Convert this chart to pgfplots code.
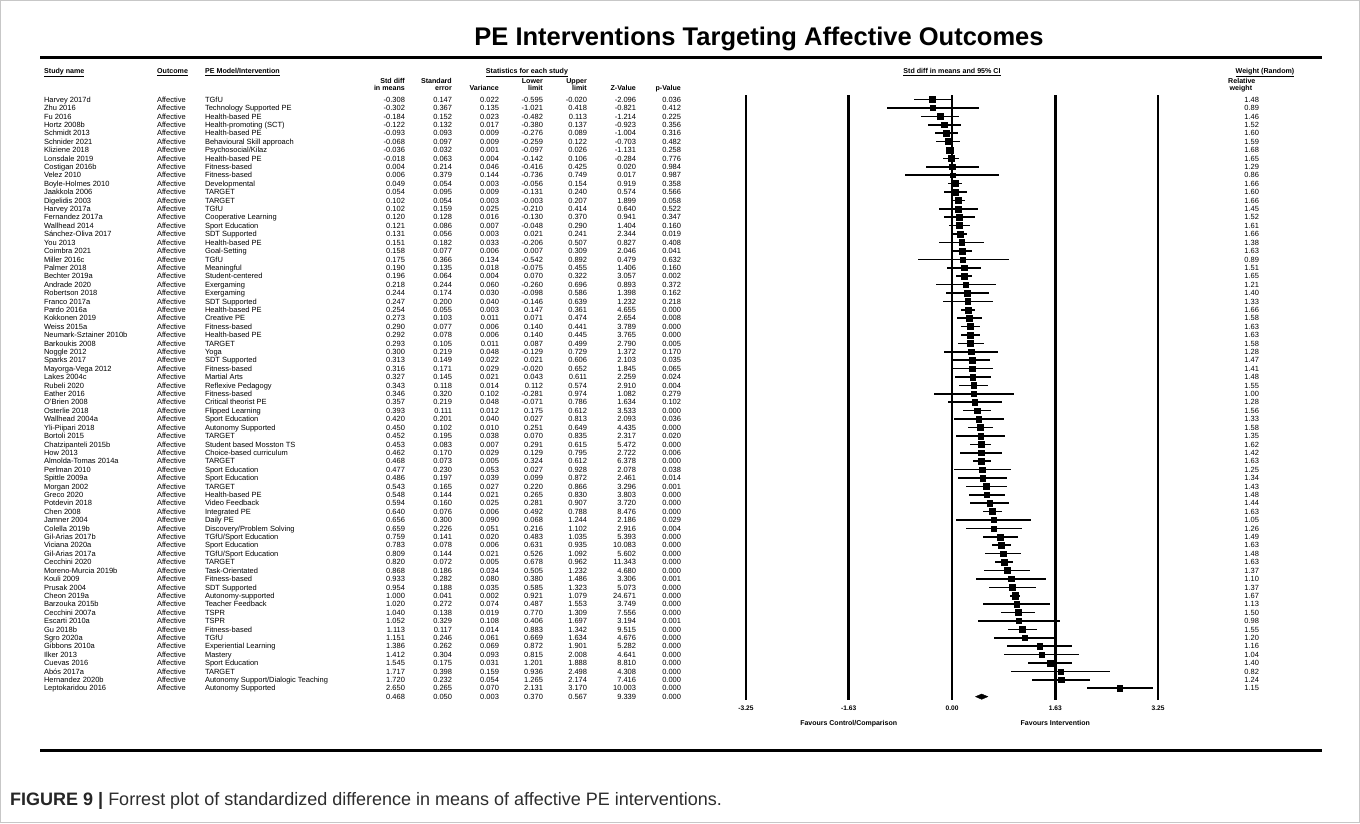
\documentclass[border=0pt]{standalone}
\usepackage{pgfplots}
\pgfplotsset{compat=1.18}
\usepackage{pgfplotstable}
\usepackage{fontspec}
\setmainfont{Liberation Sans}
\newcommand{\tf}{\fontsize{7.5}{8}\selectfont}
\newcommand{\hf}{\fontsize{7.1}{8}\selectfont\bfseries}
\definecolor{captxt}{RGB}{45,45,45}

\pgfplotstableread[col sep=semicolon]{
row;name;out;model;d;se;var;lo;hi;z;p;w
1;Harvey 2017d;Affective;TGfU;-0.308;0.147;0.022;-0.595;-0.020;-2.096;0.036;1.48
2;Zhu 2016;Affective;Technology Supported PE;-0.302;0.367;0.135;-1.021;0.418;-0.821;0.412;0.89
3;Fu 2016;Affective;Health-based PE;-0.184;0.152;0.023;-0.482;0.113;-1.214;0.225;1.46
4;Hortz 2008b;Affective;Health-promoting (SCT);-0.122;0.132;0.017;-0.380;0.137;-0.923;0.356;1.52
5;Schmidt 2013;Affective;Health-based PE;-0.093;0.093;0.009;-0.276;0.089;-1.004;0.316;1.60
6;Schnider 2021;Affective;Behavioural Skill approach;-0.068;0.097;0.009;-0.259;0.122;-0.703;0.482;1.59
7;Kliziene 2018;Affective;Psychosocial/Kilaz;-0.036;0.032;0.001;-0.097;0.026;-1.131;0.258;1.68
8;Lonsdale 2019;Affective;Health-based PE;-0.018;0.063;0.004;-0.142;0.106;-0.284;0.776;1.65
9;Costigan 2016b;Affective;Fitness-based;0.004;0.214;0.046;-0.416;0.425;0.020;0.984;1.29
10;Velez 2010;Affective;Fitness-based;0.006;0.379;0.144;-0.736;0.749;0.017;0.987;0.86
11;Boyle-Holmes 2010;Affective;Developmental;0.049;0.054;0.003;-0.056;0.154;0.919;0.358;1.66
12;Jaakkola 2006;Affective;TARGET;0.054;0.095;0.009;-0.131;0.240;0.574;0.566;1.60
13;Digelidis 2003;Affective;TARGET;0.102;0.054;0.003;-0.003;0.207;1.899;0.058;1.66
14;Harvey 2017a;Affective;TGfU;0.102;0.159;0.025;-0.210;0.414;0.640;0.522;1.45
15;Fernandez 2017a;Affective;Cooperative Learning;0.120;0.128;0.016;-0.130;0.370;0.941;0.347;1.52
16;Wallhead 2014;Affective;Sport Education;0.121;0.086;0.007;-0.048;0.290;1.404;0.160;1.61
17;Sánchez-Oliva 2017;Affective;SDT Supported;0.131;0.056;0.003;0.021;0.241;2.344;0.019;1.66
18;You 2013;Affective;Health-based PE;0.151;0.182;0.033;-0.206;0.507;0.827;0.408;1.38
19;Coimbra 2021;Affective;Goal-Setting;0.158;0.077;0.006;0.007;0.309;2.046;0.041;1.63
20;Miller 2016c;Affective;TGfU;0.175;0.366;0.134;-0.542;0.892;0.479;0.632;0.89
21;Palmer 2018;Affective;Meaningful;0.190;0.135;0.018;-0.075;0.455;1.406;0.160;1.51
22;Bechter 2019a;Affective;Student-centered;0.196;0.064;0.004;0.070;0.322;3.057;0.002;1.65
23;Andrade 2020;Affective;Exergaming;0.218;0.244;0.060;-0.260;0.696;0.893;0.372;1.21
24;Robertson 2018;Affective;Exergaming;0.244;0.174;0.030;-0.098;0.586;1.398;0.162;1.40
25;Franco 2017a;Affective;SDT Supported;0.247;0.200;0.040;-0.146;0.639;1.232;0.218;1.33
26;Pardo 2016a;Affective;Health-based PE;0.254;0.055;0.003;0.147;0.361;4.655;0.000;1.66
27;Kokkonen 2019;Affective;Creative PE;0.273;0.103;0.011;0.071;0.474;2.654;0.008;1.58
28;Weiss 2015a;Affective;Fitness-based;0.290;0.077;0.006;0.140;0.441;3.789;0.000;1.63
29;Neumark-Sztainer 2010b;Affective;Health-based PE;0.292;0.078;0.006;0.140;0.445;3.765;0.000;1.63
30;Barkoukis 2008;Affective;TARGET;0.293;0.105;0.011;0.087;0.499;2.790;0.005;1.58
31;Noggle 2012;Affective;Yoga;0.300;0.219;0.048;-0.129;0.729;1.372;0.170;1.28
32;Sparks 2017;Affective;SDT Supported;0.313;0.149;0.022;0.021;0.606;2.103;0.035;1.47
33;Mayorga-Vega 2012;Affective;Fitness-based;0.316;0.171;0.029;-0.020;0.652;1.845;0.065;1.41
34;Lakes 2004c;Affective;Martial Arts;0.327;0.145;0.021;0.043;0.611;2.259;0.024;1.48
35;Rubeli 2020;Affective;Reflexive Pedagogy;0.343;0.118;0.014;0.112;0.574;2.910;0.004;1.55
36;Eather 2016;Affective;Fitness-based;0.346;0.320;0.102;-0.281;0.974;1.082;0.279;1.00
37;O'Brien 2008;Affective;Critical theorist PE;0.357;0.219;0.048;-0.071;0.786;1.634;0.102;1.28
38;Osterlie 2018;Affective;Flipped Learning;0.393;0.111;0.012;0.175;0.612;3.533;0.000;1.56
39;Wallhead 2004a;Affective;Sport Education;0.420;0.201;0.040;0.027;0.813;2.093;0.036;1.33
40;Yli-Piipari 2018;Affective;Autonomy Supported;0.450;0.102;0.010;0.251;0.649;4.435;0.000;1.58
41;Bortoli 2015;Affective;TARGET;0.452;0.195;0.038;0.070;0.835;2.317;0.020;1.35
42;Chatzipanteli 2015b;Affective;Student based Mosston TS;0.453;0.083;0.007;0.291;0.615;5.472;0.000;1.62
43;How 2013;Affective;Choice-based curriculum;0.462;0.170;0.029;0.129;0.795;2.722;0.006;1.42
44;Almolda-Tomas 2014a;Affective;TARGET;0.468;0.073;0.005;0.324;0.612;6.378;0.000;1.63
45;Perlman 2010;Affective;Sport Education;0.477;0.230;0.053;0.027;0.928;2.078;0.038;1.25
46;Spittle 2009a;Affective;Sport Education;0.486;0.197;0.039;0.099;0.872;2.461;0.014;1.34
47;Morgan 2002;Affective;TARGET;0.543;0.165;0.027;0.220;0.866;3.296;0.001;1.43
48;Greco 2020;Affective;Health-based PE;0.548;0.144;0.021;0.265;0.830;3.803;0.000;1.48
49;Potdevin 2018;Affective;Video Feedback;0.594;0.160;0.025;0.281;0.907;3.720;0.000;1.44
50;Chen 2008;Affective;Integrated PE;0.640;0.076;0.006;0.492;0.788;8.476;0.000;1.63
51;Jamner 2004;Affective;Daily PE;0.656;0.300;0.090;0.068;1.244;2.186;0.029;1.05
52;Colella 2019b;Affective;Discovery/Problem Solving;0.659;0.226;0.051;0.216;1.102;2.916;0.004;1.26
53;Gil-Arias 2017b;Affective;TGfU/Sport Education;0.759;0.141;0.020;0.483;1.035;5.393;0.000;1.49
54;Viciana 2020a;Affective;Sport Education;0.783;0.078;0.006;0.631;0.935;10.083;0.000;1.63
55;Gil-Arias 2017a;Affective;TGfU/Sport Education;0.809;0.144;0.021;0.526;1.092;5.602;0.000;1.48
56;Cecchini 2020;Affective;TARGET;0.820;0.072;0.005;0.678;0.962;11.343;0.000;1.63
57;Moreno-Murcia 2019b;Affective;Task-Orientated;0.868;0.186;0.034;0.505;1.232;4.680;0.000;1.37
58;Kouli 2009;Affective;Fitness-based;0.933;0.282;0.080;0.380;1.486;3.306;0.001;1.10
59;Prusak 2004;Affective;SDT Supported;0.954;0.188;0.035;0.585;1.323;5.073;0.000;1.37
60;Cheon 2019a;Affective;Autonomy-supported;1.000;0.041;0.002;0.921;1.079;24.671;0.000;1.67
61;Barzouka 2015b;Affective;Teacher Feedback;1.020;0.272;0.074;0.487;1.553;3.749;0.000;1.13
62;Cecchini 2007a;Affective;TSPR;1.040;0.138;0.019;0.770;1.309;7.556;0.000;1.50
63;Escarti 2010a;Affective;TSPR;1.052;0.329;0.108;0.406;1.697;3.194;0.001;0.98
64;Gu 2018b;Affective;Fitness-based;1.113;0.117;0.014;0.883;1.342;9.515;0.000;1.55
65;Sgro 2020a;Affective;TGfU;1.151;0.246;0.061;0.669;1.634;4.676;0.000;1.20
66;Gibbons 2010a;Affective;Experiential Learning;1.386;0.262;0.069;0.872;1.901;5.282;0.000;1.16
67;Ilker 2013;Affective;Mastery;1.412;0.304;0.093;0.815;2.008;4.641;0.000;1.04
68;Cuevas 2016;Affective;Sport Education;1.545;0.175;0.031;1.201;1.888;8.810;0.000;1.40
69;Abós 2017a;Affective;TARGET;1.717;0.398;0.159;0.936;2.498;4.308;0.000;0.82
70;Hernandez 2020b;Affective;Autonomy Support/Dialogic Teaching;1.720;0.232;0.054;1.265;2.174;7.416;0.000;1.24
71;Leptokaridou 2016;Affective;Autonomy Supported;2.650;0.265;0.070;2.131;3.170;10.003;0.000;1.15
}\studies

\pgfplotstableread[col sep=semicolon]{
row;d;se;var;lo;hi;z;p
72;0.468;0.050;0.003;0.370;0.567;9.339;0.000
}\summary

\pgfplotsset{
  coltxt/.style={draw=none, mark=none, forget plot, point meta=explicit symbolic,
    nodes near coords={\pgfplotspointmeta},
    every node near coord/.append style={anchor=base #1, yshift=-2.7pt, inner sep=0pt, outer sep=0pt, font=\tf, text=black}},
}

\begin{document}
\begin{tikzpicture}
\useasboundingbox (0,0) rectangle (1360pt,823pt);
\fill[white] (0,0) rectangle (1360pt,823pt);
\draw[black!22, line width=1pt] (0.5pt,0.5pt) rectangle (1359.5pt,822.5pt);

% title and rules
\node[anchor=base, font=\fontsize{25.5}{30}\selectfont\bfseries, inner sep=0pt] at (759pt,777pt) {PE Interventions Targeting Affective Outcomes};
\draw[line width=3pt] (40pt,765pt) -- (1322pt,765pt);
\draw[line width=3pt] (40pt,73pt) -- (1322pt,73pt);

% headers
\begin{scope}[every node/.style={font=\hf, inner sep=0pt}]
\node[anchor=base west] at (44pt,749.4pt) {\underline{Study name}};
\node[anchor=base west] at (157pt,749.4pt) {\underline{Outcome}};
\node[anchor=base west] at (205pt,749.4pt) {\underline{PE Model/Intervention}};
\node[anchor=base] at (527pt,749.4pt) {\underline{Statistics for each study}};
\node[anchor=base] at (952pt,749.4pt) {\underline{Std diff in means and 95\% CI}};
\node[anchor=base] at (1265pt,749.4pt) {\underline{Weight (Random)}};
\node[anchor=base east] at (405pt,739.5pt) {Std diff};
\node[anchor=base east] at (405pt,732.5pt) {in means};
\node[anchor=base east] at (452pt,739.5pt) {Standard};
\node[anchor=base east] at (452pt,732.5pt) {error};
\node[anchor=base east] at (499pt,732.5pt) {Variance};
\node[anchor=base east] at (543pt,739.5pt) {Lower};
\node[anchor=base east] at (543pt,732.5pt) {limit};
\node[anchor=base east] at (587pt,739.5pt) {Upper};
\node[anchor=base east] at (587pt,732.5pt) {limit};
\node[anchor=base east] at (636pt,732.5pt) {Z-Value};
\node[anchor=base east] at (681pt,732.5pt) {p-Value};
\node[anchor=base west] at (1228pt,739.5pt) {Relative};
\node[anchor=base west] at (1229.5pt,732.5pt) {weight};
\end{scope}

\begin{axis}[
  at={(746pt,123pt)}, anchor=south west,
  scale only axis, width=412pt, height=605pt,
  xmin=-3.25, xmax=3.25, ymin=0.465, ymax=72.40,
  y dir=reverse, hide axis, clip=false,
]
% reference lines
\addplot[black, line width=2.6pt, forget plot] coordinates {(-3.25,0.465) (-3.25,72.40)};
\addplot[black, line width=2.6pt, forget plot] coordinates {(-1.63,0.465) (-1.63,72.40)};
\addplot[black, line width=2.6pt, forget plot] coordinates {(0,0.465) (0,72.40)};
\addplot[black, line width=2.6pt, forget plot] coordinates {(1.63,0.465) (1.63,72.40)};
\addplot[black, line width=2.6pt, forget plot] coordinates {(3.25,0.465) (3.25,72.40)};

% study effects with 95% CI
\addplot[scatter, only marks, mark=square*, forget plot,
  point meta=explicit,
  scatter/use mapped color={draw=black, fill=black},
  visualization depends on={\thisrow{w} \as \wt},
  scatter/@pre marker code/.append style={/tikz/mark size=1.7+0.8*\wt},
  error bars/.cd, x dir=both, x explicit, error mark=none,
  error bar style={line width=1.6pt, draw=black}]
  table[x=d, y=row, meta=w,
    x error plus expr=\thisrow{hi}-\thisrow{d},
    x error minus expr=\thisrow{d}-\thisrow{lo}]{\studies};

% summary diamond
\addplot[fill=black, draw=black, line width=0.3pt, forget plot] coordinates {(0.370,72) (0.468,71.68) (0.567,72) (0.468,72.32) (0.370,72)};

% table columns
\addplot[coltxt=west] table[x expr=-14.325, y=row, meta=name]{\studies};
\addplot[coltxt=west] table[x expr=-12.542, y=row, meta=out]{\studies};
\addplot[coltxt=west] table[x expr=-11.785, y=row, meta=model]{\studies};
\addplot[coltxt=east] table[x expr=-8.630, y=row, meta=d]{\studies};
\addplot[coltxt=east] table[x expr=-7.888, y=row, meta=se]{\studies};
\addplot[coltxt=east] table[x expr=-7.147, y=row, meta=var]{\studies};
\addplot[coltxt=east] table[x expr=-6.453, y=row, meta=lo]{\studies};
\addplot[coltxt=east] table[x expr=-5.758, y=row, meta=hi]{\studies};
\addplot[coltxt=east] table[x expr=-4.985, y=row, meta=z]{\studies};
\addplot[coltxt=east] table[x expr=-4.275, y=row, meta=p]{\studies};
\addplot[coltxt=east] table[x expr=4.843, y=row, meta=w]{\studies};
% summary row
\addplot[coltxt=east] table[x expr=-8.630, y=row, meta=d]{\summary};
\addplot[coltxt=east] table[x expr=-7.888, y=row, meta=se]{\summary};
\addplot[coltxt=east] table[x expr=-7.147, y=row, meta=var]{\summary};
\addplot[coltxt=east] table[x expr=-6.453, y=row, meta=lo]{\summary};
\addplot[coltxt=east] table[x expr=-5.758, y=row, meta=hi]{\summary};
\addplot[coltxt=east] table[x expr=-4.985, y=row, meta=z]{\summary};
\addplot[coltxt=east] table[x expr=-4.275, y=row, meta=p]{\summary};

% axis tick labels and captions
\begin{scope}[every node/.style={font=\fontsize{6.6}{7}\selectfont\bfseries, inner sep=0pt, anchor=base, yshift=-2.4pt}]
\node at (axis cs:-3.25,73.36) {-3.25};
\node at (axis cs:-1.63,73.36) {-1.63};
\node at (axis cs:0,73.36) {0.00};
\node at (axis cs:1.63,73.36) {1.63};
\node at (axis cs:3.25,73.36) {3.25};
\node[font=\fontsize{7}{8}\selectfont\bfseries] at (axis cs:-1.63,75.14) {Favours Control/Comparison};
\node[font=\fontsize{7}{8}\selectfont\bfseries] at (axis cs:1.63,75.14) {Favours Intervention};
\end{scope}
\end{axis}

% figure caption
\node[anchor=base west, inner sep=0pt, font=\fontsize{18}{21}\selectfont, text=captxt] at (10pt,18pt) {\textbf{\color{black!85}FIGURE 9 |} Forrest plot of standardized difference in means of affective PE interventions.};
\end{tikzpicture}
\end{document}
